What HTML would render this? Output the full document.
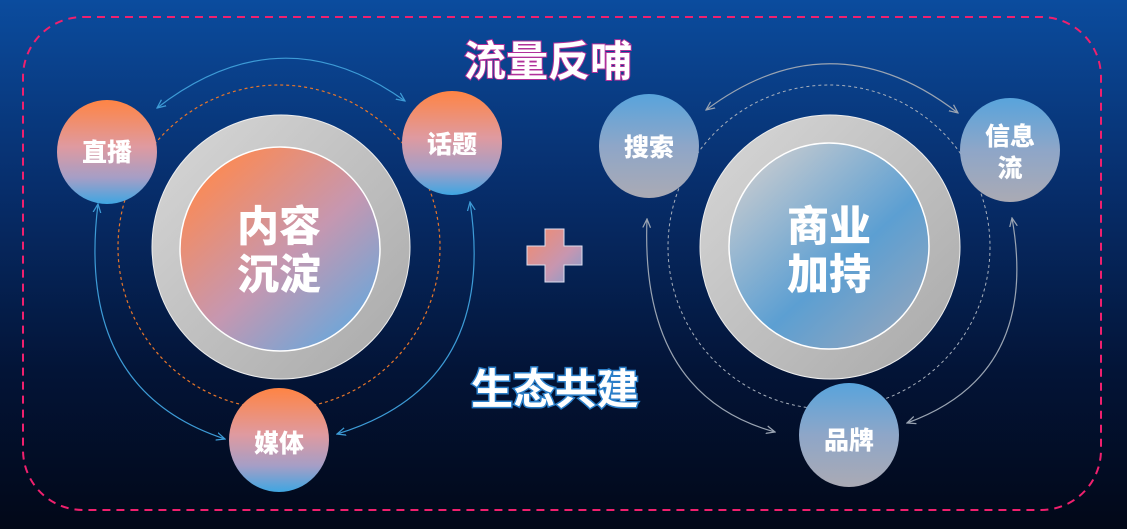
<!DOCTYPE html>
<html><head><meta charset="utf-8"><style>
html,body{margin:0;padding:0;width:1127px;height:529px;overflow:hidden;background:#031030}
svg{display:block}
text{font-family:"Liberation Sans","Noto Sans CJK SC",sans-serif;font-weight:900;text-anchor:middle}
</style></head><body>
<svg width="1127" height="529" viewBox="0 0 1127 529">
<defs>
<linearGradient id="bg" x1="0" y1="0" x2="0" y2="1">
<stop offset="0" stop-color="#0b4c9e"/><stop offset="0.35" stop-color="#072e6c"/><stop offset="0.7" stop-color="#031437"/><stop offset="1" stop-color="#020818"/>
</linearGradient>
<linearGradient id="ring" x1="0" y1="0" x2="1" y2="1">
<stop offset="0" stop-color="#d8d8d8"/><stop offset="1" stop-color="#a8a8a8"/>
</linearGradient>
<linearGradient id="warm" x1="0.15" y1="0.1" x2="0.85" y2="0.9">
<stop offset="0" stop-color="#fb8a55"/><stop offset="0.55" stop-color="#c697b0"/><stop offset="1" stop-color="#6fa6d8"/>
</linearGradient>
<linearGradient id="cool" x1="0.15" y1="0.1" x2="0.85" y2="0.9">
<stop offset="0" stop-color="#c0c8d0"/><stop offset="0.6" stop-color="#5c9fd2"/><stop offset="1" stop-color="#8aa4c0"/>
</linearGradient>
<linearGradient id="sw" x1="0" y1="0" x2="0" y2="1">
<stop offset="0" stop-color="#ff8444"/><stop offset="0.45" stop-color="#df9aa0"/><stop offset="0.75" stop-color="#a59ec6"/><stop offset="1" stop-color="#3fa6e2"/>
</linearGradient>
<linearGradient id="sc" x1="0" y1="0" x2="0" y2="1">
<stop offset="0" stop-color="#58a4dc"/><stop offset="0.5" stop-color="#8ea6c8"/><stop offset="1" stop-color="#aaaab4"/>
</linearGradient>
<linearGradient id="plus" x1="0" y1="0" x2="1" y2="1">
<stop offset="0" stop-color="#f58a6a"/><stop offset="0.6" stop-color="#c796b0"/><stop offset="1" stop-color="#7e9ed0"/>
</linearGradient>
<marker id="ab" viewBox="0 0 10 10" refX="9" refY="5" markerWidth="8" markerHeight="8" orient="auto-start-reverse"><path d="M0,1 L9,5 L0,9" fill="none" stroke="#3d9bd6" stroke-width="1.3"/></marker>
<marker id="ag" viewBox="0 0 10 10" refX="9" refY="5" markerWidth="8" markerHeight="8" orient="auto-start-reverse"><path d="M0,1 L9,5 L0,9" fill="none" stroke="#9aa4b2" stroke-width="1.3"/></marker>
</defs>
<rect width="1127" height="529" fill="url(#bg)"/>
<rect x="23" y="17" width="1078" height="493" rx="60" fill="none" stroke="#f0206e" stroke-width="2" stroke-dasharray="8,6"/>

<!-- left -->
<ellipse cx="279" cy="247" rx="161" ry="162" fill="none" stroke="#e8762a" stroke-width="1.2" stroke-dasharray="3,3"/>
<path d="M405,101 Q281,12 157,108" fill="none" stroke="#3d9bd6" stroke-width="1.2" marker-start="url(#ab)" marker-end="url(#ab)"/>
<path d="M98,204 Q75,390 225,439" fill="none" stroke="#3d9bd6" stroke-width="1.2" marker-start="url(#ab)" marker-end="url(#ab)"/>
<path d="M470,202 Q498,385 337,434" fill="none" stroke="#3d9bd6" stroke-width="1.2" marker-start="url(#ab)" marker-end="url(#ab)"/>
<ellipse cx="281" cy="247" rx="129" ry="132" fill="url(#ring)" stroke="#eee" stroke-width="1"/>
<ellipse cx="280" cy="249" rx="100" ry="102" fill="url(#warm)" stroke="#fff" stroke-width="1.5"/>
<text x="279" y="241" font-size="42" fill="#fff">内容</text>
<text x="279" y="289" font-size="42" fill="#fff">沉淀</text>
<ellipse cx="107" cy="152" rx="50" ry="52" fill="url(#sw)"/>
<text x="107" y="161" font-size="25" fill="#fff">直播</text>
<ellipse cx="452" cy="143" rx="50" ry="52" fill="url(#sw)"/>
<text x="452" y="153" font-size="25" fill="#fff">话题</text>
<ellipse cx="279" cy="440" rx="50" ry="52" fill="url(#sw)"/>
<text x="279" y="452" font-size="25" fill="#fff">媒体</text>

<!-- right -->
<ellipse cx="829" cy="247" rx="161" ry="162" fill="none" stroke="#a8b0bc" stroke-width="1" stroke-dasharray="3,3"/>
<path d="M706,110 Q832,16 958,113" fill="none" stroke="#9aa4b2" stroke-width="1.2" marker-start="url(#ag)" marker-end="url(#ag)"/>
<path d="M647,219 Q640,395 775,432" fill="none" stroke="#9aa4b2" stroke-width="1.2" marker-start="url(#ag)" marker-end="url(#ag)"/>
<path d="M1012,218 Q1040,375 907,423" fill="none" stroke="#9aa4b2" stroke-width="1.2" marker-start="url(#ag)" marker-end="url(#ag)"/>
<ellipse cx="830" cy="247" rx="130" ry="132" fill="url(#ring)" stroke="#eee" stroke-width="1"/>
<ellipse cx="829" cy="246" rx="100" ry="103" fill="url(#cool)" stroke="#fff" stroke-width="1.5"/>
<text x="829" y="241" font-size="42" fill="#fff">商业</text>
<text x="829" y="289" font-size="42" fill="#fff">加持</text>
<ellipse cx="649" cy="146" rx="50" ry="52" fill="url(#sc)"/>
<text x="649" y="156" font-size="25" fill="#fff">搜索</text>
<ellipse cx="1010" cy="150" rx="50" ry="52" fill="url(#sc)"/>
<text x="1010" y="145" font-size="25" fill="#fff">信息</text>
<text x="1010" y="177" font-size="25" fill="#fff">流</text>
<ellipse cx="849" cy="435" rx="50" ry="52" fill="url(#sc)"/>
<text x="849" y="449" font-size="25" fill="#fff">品牌</text>

<!-- plus -->
<path d="M545,229 h19 v17 h18 v19 h-18 v17 h-19 v-17 h-18 v-19 h18 z" fill="url(#plus)" stroke="#dde" stroke-width="1"/>

<text x="548" y="76" font-size="42" fill="#fff" stroke="#b0309a" stroke-width="2" paint-order="stroke" style="font-weight:700">流量反哺</text>
<text x="555" y="404" font-size="42" fill="#fff" stroke="#2a7ec8" stroke-width="3" paint-order="stroke" style="font-weight:700">生态共建</text>
</svg>
</body></html>
